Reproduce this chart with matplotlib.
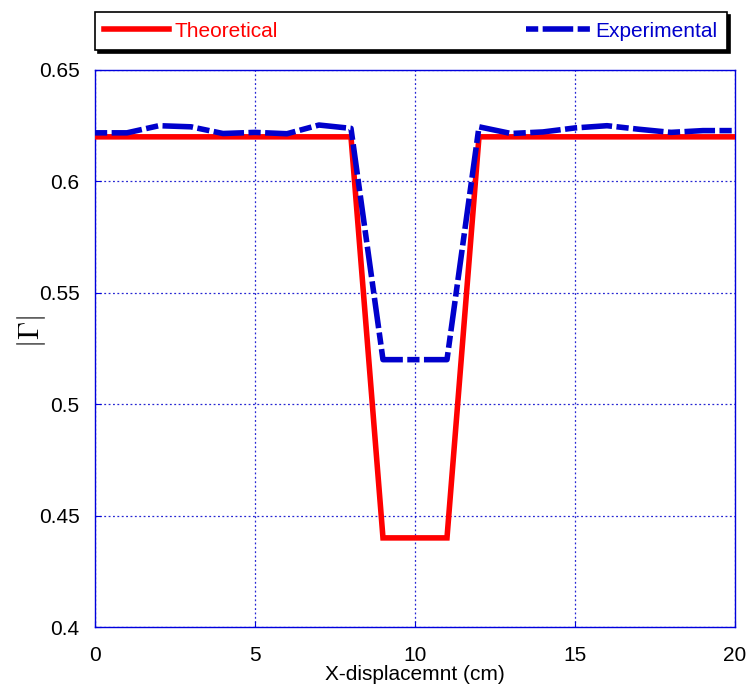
import matplotlib
matplotlib.use("Agg")
import matplotlib.pyplot as plt

# Reflection magnitude versus displacement
x_theory = [0, 8, 9, 11, 12, 20]
gamma_theory = [0.62, 0.62, 0.44, 0.44, 0.62, 0.62]

x_exp = list(range(0, 21))
gamma_exp = [0.6218, 0.6218, 0.625, 0.6245, 0.6215, 0.622, 0.6214, 0.6253, 0.6238,
             0.52, 0.52, 0.52,
             0.6245, 0.6215, 0.6222, 0.624, 0.625, 0.6234, 0.622, 0.6228, 0.6228]

x_ticks = [0, 5, 10, 15, 20]
y_ticks = [0.4, 0.45, 0.5, 0.55, 0.6, 0.65]
y_tick_labels = ["0.4", "0.45", "0.5", "0.55", "0.6", "0.65"]

plt.rcParams["font.family"] = ["Liberation Sans", "DejaVu Sans"]
plt.rcParams["mathtext.fontset"] = "cm"

fig = plt.figure(figsize=(7.49, 6.91), dpi=100)
ax = fig.add_axes([0.1268, 0.0926, 0.8545, 0.8061])

axis_blue = "#0000dd"
ax.plot(x_theory, gamma_theory, color="#ff0000", lw=4.0,
        solid_joinstyle="miter", label="Theoretical", zorder=3)
ax.plot(x_exp, gamma_exp, color="#0000cc", lw=4.0,
        linestyle=(6.3, (5.5, 0.8, 2.2, 0.8)), label="Experimental", zorder=4)

ax.set_xlim(0, 20)
ax.set_ylim(0.4, 0.65)
ax.set_xticks(x_ticks)
ax.set_yticks(y_ticks)
ax.set_yticklabels(y_tick_labels)
ax.tick_params(direction="in", length=4, color=axis_blue, labelsize=15,
               labelcolor="black")
ax.tick_params(axis="x", pad=14)
ax.tick_params(axis="y", pad=11)
for s in ax.spines.values():
    s.set_color(axis_blue)
    s.set_linewidth(1.0)
ax.grid(True, color="#0000cc", linestyle=(0, (1.5, 2.0)), linewidth=0.9, alpha=0.85)

ax.set_xlabel("X-displacemnt (cm)", fontsize=15, labelpad=0)
ax.set_ylabel(r"$|\Gamma|$", fontsize=21)
ax.yaxis.set_label_coords(-0.074, 0.53)

leg = ax.legend(loc="lower left", bbox_to_anchor=(0.0, 1.036, 0.9875, 0.06),
                mode="expand", ncol=2, frameon=True, fancybox=False,
                shadow={"facecolor": "black", "edgecolor": "black", "alpha": 1.0},
                edgecolor="black", fontsize=15, labelcolor="linecolor",
                handlelength=3.1, handletextpad=0.25, borderaxespad=0,
                borderpad=0.45)
leg.get_frame().set_linewidth(1.2)

fig.savefig("out.png", dpi=100)
